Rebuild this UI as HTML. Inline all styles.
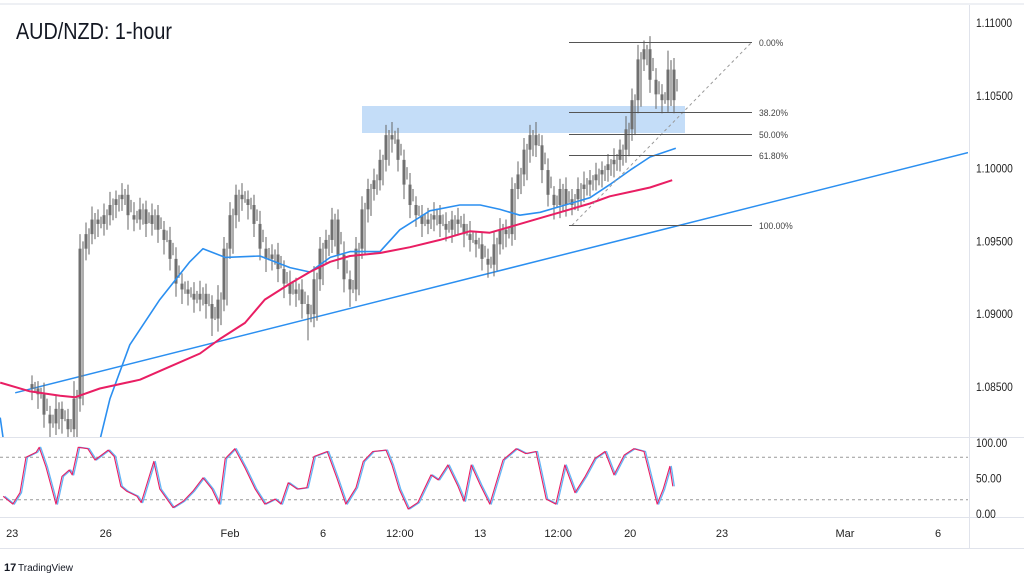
<!DOCTYPE html>
<html><head><meta charset="utf-8"><style>
html,body{margin:0;padding:0;background:#fff;}
svg{display:block;font-family:"Liberation Sans",sans-serif;}
</style></head><body>
<svg id="c" width="1024" height="576" viewBox="0 0 1024 576">
<defs>
<clipPath id="mainClip"><rect x="0" y="8" width="968" height="429"/></clipPath>
<clipPath id="oscClip"><rect x="0" y="438" width="968" height="79"/></clipPath>
</defs>
<rect x="0" y="0" width="1024" height="576" fill="#fff"/>
<line x1="0" y1="4" x2="1024" y2="4" stroke="#eef0f4" stroke-width="2"/>
<g id="grid">
<line x1="969.5" y1="5" x2="969.5" y2="549" stroke="#e0e3eb"/>
<line x1="0" y1="437.5" x2="1024" y2="437.5" stroke="#e0e3eb"/>
<line x1="0" y1="517.5" x2="1024" y2="517.5" stroke="#e0e3eb"/>
<line x1="0" y1="548.5" x2="1024" y2="548.5" stroke="#e0e3eb"/>
</g>
<rect x="362" y="106" width="323" height="27" fill="#c4ddf8"/>
<g id="main" clip-path="url(#mainClip)"></g>
<g id="fib"></g>
<g id="osc" clip-path="url(#oscClip)"></g>
<g id="axes"></g>
<text x="16" y="39" font-size="23" fill="#131722" transform="translate(16,0) scale(0.86,1) translate(-16,0)">AUD/NZD: 1-hour</text>
<text x="4" y="571" font-size="11" font-weight="bold" fill="#131722">17</text>
<text x="18" y="571" font-size="10" fill="#131722">TradingView</text>
</svg>
<script>
// ---- data ----
const closes = [1.0849,1.0845,1.0831,1.0825,1.0835,1.0828,1.0821,1.0842,1.0945,1.0955,
1.0965,1.0962,1.0968,1.0975,1.0979,1.0982,1.0968,1.0965,1.0972,1.0962,
1.0968,1.0958,1.0951,1.0938,1.0921,1.0917,1.0914,1.0910,1.0914,1.0907,
1.0897,1.0910,1.0945,1.0968,1.0982,1.0979,1.0975,1.0962,1.0945,1.0938,
1.0941,1.0931,1.0921,1.0914,1.0917,1.0907,1.0900,1.0924,1.0945,1.0951,
1.0965,1.0941,1.0924,1.0917,1.0945,1.0972,1.0986,1.0992,1.1006,1.1023,
1.1020,1.1006,1.0989,1.0975,1.0968,1.0962,1.0965,1.0968,1.0962,1.0958,
1.0965,1.0962,1.0955,1.0951,1.0948,1.0938,1.0934,1.0948,1.0958,1.0955,
1.0986,1.0996,1.1013,1.1023,1.1016,1.0999,1.0982,1.0975,1.0986,1.0975,
1.0979,1.0986,1.0989,1.0992,1.0996,1.0999,1.1003,1.1006,1.1013,1.1027,
1.1047,1.1075,1.1082,1.1061,1.1051,1.1047,1.1068,1.1047];
const wickUp = [6,5,8,6,9,5,7,12,10,8,9,7,8,9,6,8,7,9,8,6,
8,7,6,9,8,7,6,8,9,7,6,10,8,9,7,8,6,7,9,8,
7,8,6,9,8,7,6,9,8,7,8,7,9,6,8,9,7,8,7,7,
9,8,7,8,6,7,8,9,7,8,6,8,7,9,6,8,7,9,8,7,
8,9,8,7,9,7,8,6,7,8,7,8,9,7,8,6,7,8,7,9,
8,10,6,9,8,7,13,8];
const wickDown = [8,10,9,12,8,10,11,26,9,8,7,9,8,7,9,8,10,8,7,9,
8,9,10,8,9,10,8,9,8,10,12,9,8,7,9,8,10,9,8,9,
8,9,10,8,9,10,18,9,8,10,9,10,9,12,8,7,9,8,7,8,
9,8,10,9,8,9,7,8,9,8,9,8,9,8,9,8,9,8,7,9,
8,7,8,9,8,9,8,10,9,8,7,8,9,8,7,9,8,9,8,9,
8,9,8,9,10,9,8,9];
const firstBar = 5;
const blueT = [-0.3,1.7,13.8,18,21.3,26.3,31.3,33.5,37.2,43,48,51.3,54.7,58,63,66.3,71.3,76.3,79.7,83,86.3,89.7,93,95.5,98,101.3,104.7,108,112.3];
const blueV = [1.0829,1.0771,1.0771,1.0842,1.0879,1.0910,1.0936,1.0945,1.0939,1.0940,1.0932,1.0929,1.0939,1.0943,1.0943,1.0958,1.0971,1.0975,1.0975,1.0972,1.0968,1.0970,1.0974,1.0977,1.0980,1.0989,1.0999,1.1008,1.1014];
const pinkT = [-0.3,4.7,9.7,12.2,16.3,23,28,33,36.3,40.5,43.8,48,51.3,54.7,58,63,68,73,78,81.3,84.7,89.7,93,98,101.3,104.7,108,111.7];
const pinkV = [1.0853,1.0847,1.0844,1.0843,1.0849,1.0855,1.0864,1.0873,1.0883,1.0894,1.0910,1.0921,1.0929,1.0936,1.0940,1.0942,1.0946,1.0951,1.0957,1.0956,1.0960,1.0966,1.0970,1.0976,1.0981,1.0984,1.0987,1.0992];
const trendT = [2.2,161];
const trendV = [1.0846,1.1011];
const oscT = [0.2,1.8,3,4,5.7,6.2,7.3,9,10,11.2,11.7,12.7,14.3,15.5,17.7,18.7,19.8,20.8,22.5,23.2,25.3,26.3,28.5,30.2,31.8,33.5,35,36.2,37.2,38.8,40.5,42.2,43.8,45.5,46.5,47.7,49.2,50.8,52,54.2,55.8,57.3,59,60.2,61.8,64,65,66.2,67.7,69.3,71.5,72.7,74.3,76,77,78.2,79.7,81.3,83.5,85.7,87.3,89,90.7,92.3,93.8,95.5,97.2,98.8,100.5,102,103.7,105.3,107,109.2,110.2,111.3,111.8];
const oscV = [25,14,30,80,87,94,67,14,53,62,55,94,92,76,90,81,39,32,25,16,74,35,9,18,32,51,35,14,78,92,65,35,14,21,14,44,35,37,81,88,51,14,37,74,88,90,69,35,7,16,55,48,69,39,18,69,41,14,76,92,85,88,21,14,69,30,53,78,88,55,83,92,88,14,35,67,39];
const priceTicks = [1.11,1.105,1.10,1.095,1.09,1.085];
const oscTicks = [100,50,0];
const timeLabels = ["23","26","Feb","6","12:00","13","12:00","20","23","Mar","6"];
const timeT = [1.7,17.3,38,53.5,66.3,79.7,92.7,104.7,120,140.5,156];
const fibLevels = [0,38.2,50,61.8,100];
const fibHigh = 1.1087, fibLow = 1.0961, fibT0 = 94.5, fibT1 = 125;
// ---- scales ----
const NS = "http://www.w3.org/2000/svg";
const xOf = t => 2 + t * 6;
const yOf = p => 23 + (1.11 - p) / 0.005 * 72.8;
const yOsc = v => 514 - v * 0.71;
function mk(tag, attrs, parent) {
  const e = document.createElementNS(NS, tag);
  for (const k in attrs) e.setAttribute(k, attrs[k]);
  parent.appendChild(e);
  return e;
}
const main = document.getElementById('main');
const osc = document.getElementById('osc');
const axes = document.getElementById('axes');
const fib = document.getElementById('fib');
// trendline
const tl = mk('line', {x1: xOf(trendT[0]), y1: yOf(trendV[0]), x2: xOf(trendT[1]), y2: yOf(trendV[1]), stroke: '#2b8ff0', 'stroke-width': 1.5}, main);


// candles
let prev = closes[0];
closes.forEach((c, i) => {
  const o = i === 0 ? c + 0.0003 : prev;
  const hi = Math.max(o, c) + wickUp[i] * 0.0001;
  const lo = Math.min(o, c) - wickDown[i] * 0.0001;
  const x = xOf(firstBar + i);
  const g = mk('g', {}, main);
  
  
  mk('line', {x1: x, x2: x, y1: yOf(hi), y2: yOf(lo), stroke: '#666', 'stroke-width': 1}, g);
  const yt = yOf(Math.max(o, c)), yb = yOf(Math.min(o, c));
  mk('rect', {x: x - 1.5, y: yt, width: 3, height: Math.max(1, yb - yt), fill: '#707070'}, g);
  mk('line', {x1: x + 3, x2: x + 3, y1: yOf((hi + c) / 2), y2: yOf((lo + o) / 2), stroke: '#777', 'stroke-width': 1.2}, g);
  prev = c;
});
function poly(ts, vs, yf, color, w, parent, name, dx) {
  const pts = ts.map((t, i) => (xOf(t) + (dx || 0)).toFixed(1) + ',' + yf(vs[i]).toFixed(1)).join(' ');
  const p = mk('polyline', {points: pts, fill: 'none', stroke: color, 'stroke-width': w, 'stroke-linejoin': 'round'}, parent);
  
  
  return p;
}
poly(blueT, blueV, yOf, '#2b8ff0', 1.6, main, 'sma-100-line');
poly(pinkT, pinkV, yOf, '#e91e63', 2, main, 'sma-200-line');
// fib
const fx0 = xOf(fibT0), fx1 = xOf(fibT1);
const diag = mk('line', {x1: fx0 + 3, y1: yOf(fibLow), x2: fx1, y2: yOf(fibHigh), stroke: '#9a9a9a', 'stroke-dasharray': '3,3', 'stroke-width': 1}, fib);


fibLevels.forEach(l => {
  const p = fibHigh - (fibHigh - fibLow) * l / 100;
  const y = Math.round(yOf(p)) + 0.5;
  const ln = mk('line', {x1: fx0, x2: fx1, y1: y, y2: y, stroke: '#555', 'stroke-width': 1}, fib);
  
  
  const tx = mk('text', {x: fx1 + 7, y: y + 3.5, 'font-size': 9.5, fill: '#444', transform: `translate(${fx1 + 7},0) scale(0.9,1) translate(${-(fx1 + 7)},0)`}, fib);
  tx.textContent = l.toFixed(2) + '%';
  
  
});
// oscillator
[80, 20].forEach(v => {
  const d = mk('line', {x1: 0, x2: 968, y1: yOsc(v), y2: yOsc(v), stroke: '#999', 'stroke-dasharray': '3,3', 'stroke-width': 1}, osc);
  
  
});
poly(oscT, oscV, yOsc, '#64b5f6', 1.3, osc, 'stoch-k-line', 1.5);
poly(oscT, oscV, yOsc, '#e91e63', 1.1, osc, 'stoch-d-line');
// axes
priceTicks.forEach(p => {
  const t = mk('text', {x: 976, y: yOf(p) + 4, 'font-size': 12, fill: '#222', transform: `translate(976,0) scale(0.85,1) translate(-976,0)`}, axes);
  t.textContent = p.toFixed(5);
  
  
});
oscTicks.forEach(v => {
  const t = mk('text', {x: 976, y: yOsc(v) + 4, 'font-size': 12, fill: '#222', transform: `translate(976,0) scale(0.85,1) translate(-976,0)`}, axes);
  t.textContent = v.toFixed(2);
  
  
});
timeLabels.forEach((s, i) => {
  const t = mk('text', {x: xOf(timeT[i]), y: 537, 'font-size': 11, fill: '#222', 'text-anchor': 'middle'}, axes);
  t.textContent = s;
  
  
});
</script>
</body></html>
